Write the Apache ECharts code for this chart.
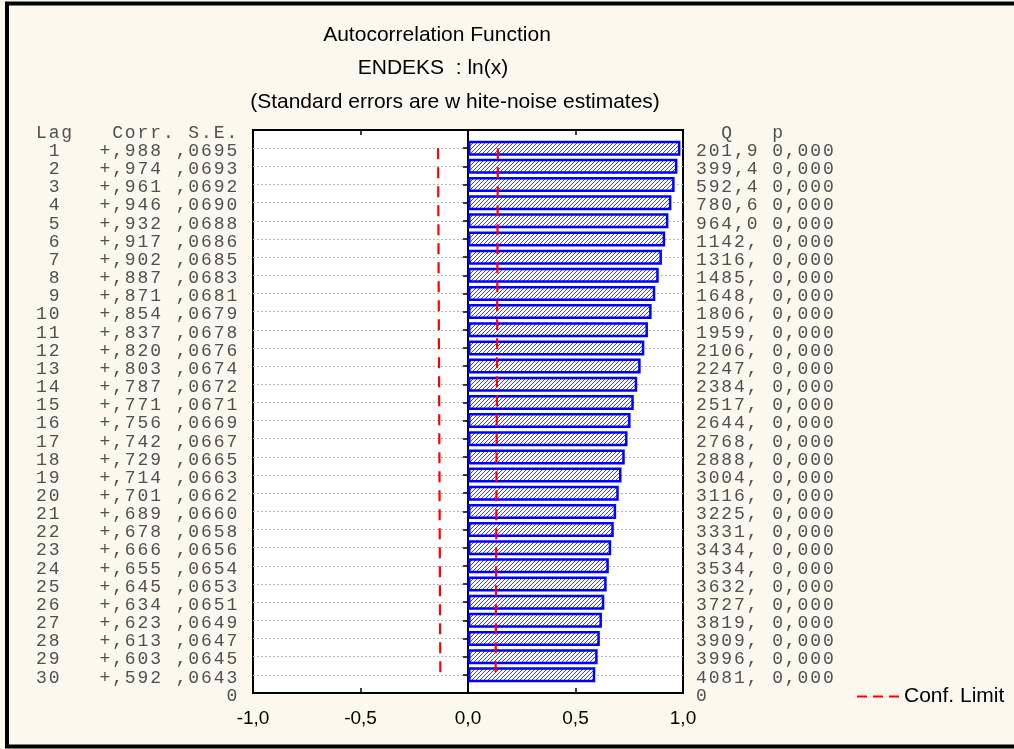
<!DOCTYPE html>
<html>
<head>
<meta charset="utf-8">
<script src="https://cdn.jsdelivr.net/npm/echarts@6/dist/echarts.min.js"></script>
<style>
html,body{margin:0;padding:0;background:#fdf8ee;}
#chart{width:1014px;height:749px;}
</style>
</head>
<body>
<div id="chart"></div>
<script>
// ---- data ----
const lags = [1,2,3,4,5,6,7,8,9,10,11,12,13,14,15,16,17,18,19,20,21,22,23,24,25,26,27,28,29,30];
const corr = [0.988,0.974,0.961,0.946,0.932,0.917,0.902,0.887,0.871,0.854,0.837,0.820,0.803,0.787,0.771,0.756,0.742,0.729,0.714,0.701,0.689,0.678,0.666,0.655,0.645,0.634,0.623,0.613,0.603,0.592];
const se = [0.0695,0.0693,0.0692,0.0690,0.0688,0.0686,0.0685,0.0683,0.0681,0.0679,0.0678,0.0676,0.0674,0.0672,0.0671,0.0669,0.0667,0.0665,0.0663,0.0662,0.0660,0.0658,0.0656,0.0654,0.0653,0.0651,0.0649,0.0647,0.0645,0.0643];
const qStat = [201.9,399.4,592.4,780.6,964.0,1142,1316,1485,1648,1806,1959,2106,2247,2384,2517,2644,2768,2888,3004,3116,3225,3331,3434,3534,3632,3727,3819,3909,3996,4081];
const pVal = [0,0,0,0,0,0,0,0,0,0,0,0,0,0,0,0,0,0,0,0,0,0,0,0,0,0,0,0,0,0];
const xTicks = [-1.0,-0.5,0.0,0.5,1.0];
const titles = ['Autocorrelation Function','ENDEKS  : ln(x)','(Standard errors are w hite-noise estimates)'];
const leftHeader = 'Lag   Corr. S.E.';
const rightHeader = '  Q   p';
const legendName = 'Conf. Limit';

// ---- formatting helpers ----
function fmtCorr(v){ return (v>=0?'+':'-') + ',' + Math.round(Math.abs(v)*1000).toString().padStart(3,'0'); }
function fmtSE(v){ return ',' + Math.round(v*10000).toString().padStart(4,'0'); }
function fmtQ(v){ return v<1000 ? v.toFixed(1).replace('.',',') : String(Math.round(v))+','; }
function fmtP(v){ return v.toFixed(3).replace('.',','); }
function mono(s){ return s.split('').map(ch => '{c|' + ch + '}').join(''); }

const cats = ['H'].concat(lags.map(String)).concat(['Z']);
function leftLabel(val, idx){
  if (idx === 0) return mono(leftHeader);
  if (idx === cats.length-1) return mono(' '.repeat(15) + '0');
  const i = idx-1;
  return mono(String(lags[i]).padStart(2,' ') + '   ' + fmtCorr(corr[i]) + ' ' + fmtSE(se[i]));
}
function rightLabel(val, idx){
  if (idx === 0) return mono(rightHeader);
  if (idx === cats.length-1) return mono('0');
  const i = idx-1;
  return mono(fmtQ(qStat[i]) + ' ' + fmtP(pVal[i]));
}

// hatch pattern
const pc = document.createElement('canvas');
pc.width = 4; pc.height = 4;
const g = pc.getContext('2d');
g.fillStyle = '#ffffff'; g.fillRect(0,0,4,4);
g.strokeStyle = '#3c3cff'; g.lineWidth = 1.0;
g.beginPath();
g.moveTo(0,4); g.lineTo(4,0);
g.moveTo(-1,1); g.lineTo(1,-1);
g.moveTo(3,5); g.lineTo(5,3);
g.stroke();

const monoRich = { c: { width: 12.7, align: 'center', fontFamily: "'Liberation Mono', 'Courier New', monospace", fontSize: 18, color: '#505050' } };
const sans = "'Liberation Sans', Arial, sans-serif";

const chart = echarts.init(document.getElementById('chart'), null, {renderer:'canvas'});
chart.setOption({
  animation: false,
  backgroundColor: '#fdf8ee',
  title: [
    { text: titles[0], left: 432, top: 20, textAlign: 'center', textStyle: { fontFamily: sans, fontSize: 21, fontWeight: 'normal', color: '#000' } },
    { text: titles[1], left: 428, top: 53, textAlign: 'center', textStyle: { fontFamily: sans, fontSize: 21, fontWeight: 'normal', color: '#000' } },
    { text: titles[2], left: 450, top: 87, textAlign: 'center', textStyle: { fontFamily: sans, fontSize: 21, fontWeight: 'normal', color: '#000' } }
  ],
  graphic: [
    { type: 'rect', shape: { x: 7, y: 3.5, width: 1030, height: 743 }, style: { fill: 'none', stroke: '#000', lineWidth: 4 }, silent: true, z: 100 }
  ],
  legend: {
    data: [legendName], left: 852, top: 681,
    icon: 'path://M0,0H10V2H0Z M16,0H26V2H16Z M32,0H42V2H32Z',
    itemWidth: 42, itemHeight: 2, itemGap: 8,
    textStyle: { fontFamily: sans, fontSize: 21, color: '#000' }
  },
  grid: { left: 253, top: 130, right: 331, bottom: 56, show: true, backgroundColor: '#ffffff', borderColor: '#000', borderWidth: 2 },
  xAxis: [
    { type: 'value', position: 'bottom', min: -1, max: 1, interval: 0.5,
      axisLine: { show: true, onZero: false, lineStyle: { color: '#000', width: 2 } },
      axisTick: { show: true, inside: true, length: 5, lineStyle: { color: '#000', width: 1.5 } },
      axisLabel: { margin: 16, fontFamily: sans, fontSize: 19, color: '#000', formatter: v => v.toFixed(1).replace('.', ',') },
      splitLine: { show: false } },
    { type: 'value', position: 'top', min: -1, max: 1, interval: 0.5,
      axisLine: { show: true, onZero: false, lineStyle: { color: '#000', width: 2 } },
      axisTick: { show: true, inside: true, length: 5, lineStyle: { color: '#000', width: 1.5 } },
      axisLabel: { show: false }, splitLine: { show: false } }
  ],
  yAxis: [
    { type: 'category', data: cats, inverse: true, boundaryGap: false, position: 'left',
      axisLine: { show: true, lineStyle: { color: '#000', width: 2 } },
      axisTick: { show: true, inside: true, length: 5, interval: 0, lineStyle: { color: '#000', width: 1.5 } },
      axisLabel: { interval: 0, margin: 218, align: 'left', padding: [6,0,0,0], formatter: leftLabel, rich: monoRich },
      splitLine: { show: true, interval: 0, lineStyle: { color: '#b8b8b8', width: 1, type: [2,2] } } },
    { type: 'category', data: cats, inverse: true, boundaryGap: false, position: 'right',
      axisLine: { show: true, lineStyle: { color: '#000', width: 2 } },
      axisTick: { show: true, inside: true, length: 5, interval: 0, lineStyle: { color: '#000', width: 1.5 } },
      axisLabel: { interval: 0, margin: 12, align: 'left', padding: [6,0,0,0], formatter: rightLabel, rich: monoRich },
      splitLine: { show: false } }
  ],
  series: [
    { type: 'bar', xAxisIndex: 0, yAxisIndex: 0, barWidth: 15,
      data: [null].concat(corr).concat([null]),
      itemStyle: { color: { image: pc, repeat: 'repeat' }, borderColor: '#0000ff', borderWidth: 2.5 }, z: 3 },
    { type: 'line', name: legendName, xAxisIndex: 0, yAxisIndex: 0, symbol: 'none',
      data: [null].concat(se.map(s => 2*s)).concat([null]),
      lineStyle: { color: '#ff0000', width: 2.2, type: [11,8] }, itemStyle: { color: '#ff0000' }, z: 4 },
    { type: 'line', name: legendName, xAxisIndex: 0, yAxisIndex: 0, symbol: 'none',
      data: [null].concat(se.map(s => -2*s)).concat([null]),
      lineStyle: { color: '#ff0000', width: 2.2, type: [11,8] }, itemStyle: { color: '#ff0000' }, z: 4 }
  ]
});
</script>
</body>
</html>
